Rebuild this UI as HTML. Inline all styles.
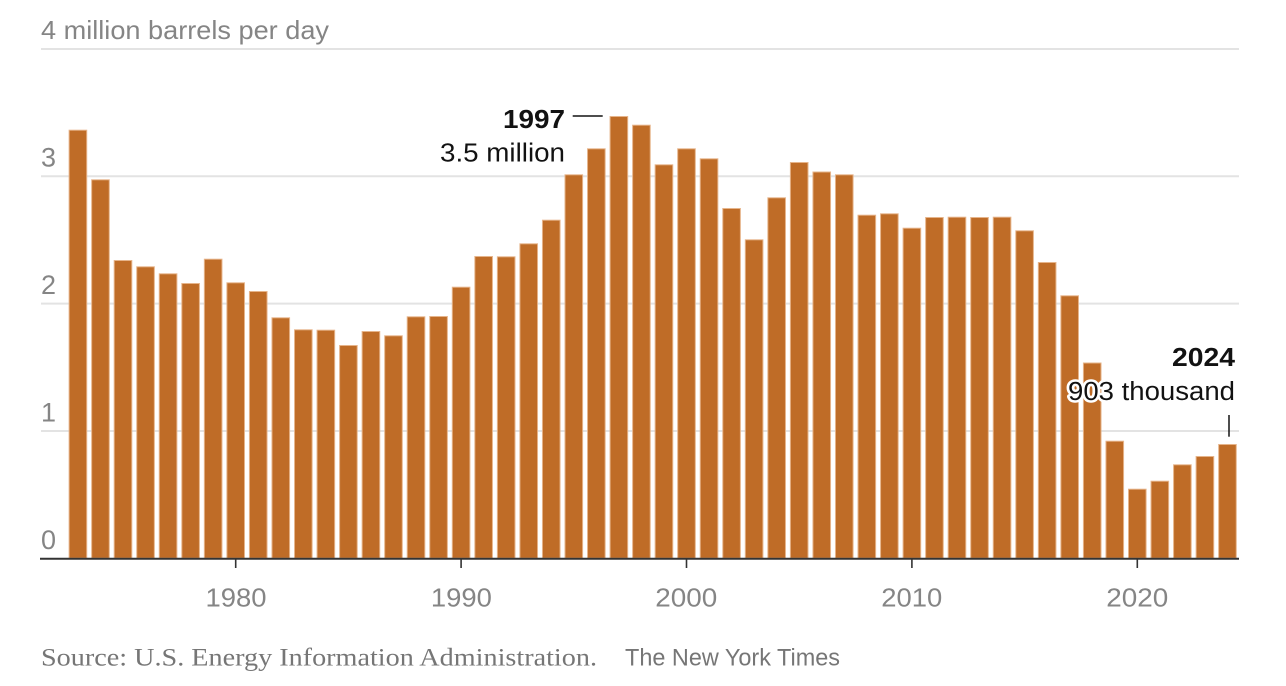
<!DOCTYPE html>
<html>
<head>
<meta charset="utf-8">
<style>
html,body{margin:0;padding:0;background:#fff;}
svg{display:block;}
</style>
</head>
<body>
<svg width="1286" height="686" viewBox="0 0 1286 686" xmlns="http://www.w3.org/2000/svg">
<g stroke="#e3e3e3" stroke-width="2">
<line x1="41" y1="49" x2="1239" y2="49"/>
<line x1="41" y1="176.3" x2="1239" y2="176.3"/>
<line x1="41" y1="303.6" x2="1239" y2="303.6"/>
<line x1="41" y1="431" x2="1239" y2="431"/>
</g>
<g font-family="Liberation Sans, sans-serif" fill="#858585" font-size="27">
<text x="41" y="39" font-size="26" textLength="288" lengthAdjust="spacingAndGlyphs">4 million barrels per day</text>
<text x="41" y="166.7">3</text>
<text x="41" y="294.2">2</text>
<text x="41" y="421.5">1</text>
<text x="41" y="549">0</text>
</g>
<g fill="#bf6c27" stroke="#e6b48a" stroke-width="1">
<rect x="69.12" y="130.2" width="17.6" height="428"/>
<rect x="91.66" y="179.8" width="17.6" height="378.4"/>
<rect x="114.2" y="260.5" width="17.6" height="297.7"/>
<rect x="136.74" y="266.8" width="17.6" height="291.4"/>
<rect x="159.28" y="273.8" width="17.6" height="284.4"/>
<rect x="181.82" y="283.5" width="17.6" height="274.7"/>
<rect x="204.36" y="259.2" width="17.6" height="299"/>
<rect x="226.9" y="282.8" width="17.6" height="275.4"/>
<rect x="249.44" y="291.5" width="17.6" height="266.7"/>
<rect x="271.98" y="317.8" width="17.6" height="240.4"/>
<rect x="294.52" y="329.8" width="17.6" height="228.4"/>
<rect x="317.06" y="330.2" width="17.6" height="228"/>
<rect x="339.6" y="345.5" width="17.6" height="212.7"/>
<rect x="362.14" y="331.5" width="17.6" height="226.7"/>
<rect x="384.68" y="335.8" width="17.6" height="222.4"/>
<rect x="407.22" y="316.8" width="17.6" height="241.4"/>
<rect x="429.76" y="316.5" width="17.6" height="241.7"/>
<rect x="452.3" y="287.2" width="17.6" height="271"/>
<rect x="474.84" y="256.5" width="17.6" height="301.7"/>
<rect x="497.38" y="256.8" width="17.6" height="301.4"/>
<rect x="519.92" y="243.8" width="17.6" height="314.4"/>
<rect x="542.46" y="220.2" width="17.6" height="338"/>
<rect x="565" y="174.8" width="17.6" height="383.4"/>
<rect x="587.54" y="148.8" width="17.6" height="409.4"/>
<rect x="610.08" y="116.5" width="17.6" height="441.7"/>
<rect x="632.62" y="125.2" width="17.6" height="433"/>
<rect x="655.16" y="164.8" width="17.6" height="393.4"/>
<rect x="677.7" y="148.8" width="17.6" height="409.4"/>
<rect x="700.24" y="158.8" width="17.6" height="399.4"/>
<rect x="722.78" y="208.5" width="17.6" height="349.7"/>
<rect x="745.32" y="239.8" width="17.6" height="318.4"/>
<rect x="767.86" y="197.8" width="17.6" height="360.4"/>
<rect x="790.4" y="162.5" width="17.6" height="395.7"/>
<rect x="812.94" y="172" width="17.6" height="386.2"/>
<rect x="835.48" y="174.8" width="17.6" height="383.4"/>
<rect x="858.02" y="215.2" width="17.6" height="343"/>
<rect x="880.56" y="213.8" width="17.6" height="344.4"/>
<rect x="903.1" y="228.2" width="17.6" height="330"/>
<rect x="925.64" y="217.5" width="17.6" height="340.7"/>
<rect x="948.18" y="217.2" width="17.6" height="341"/>
<rect x="970.72" y="217.5" width="17.6" height="340.7"/>
<rect x="993.26" y="217.2" width="17.6" height="341"/>
<rect x="1015.8" y="230.8" width="17.6" height="327.4"/>
<rect x="1038.34" y="262.5" width="17.6" height="295.7"/>
<rect x="1060.88" y="295.8" width="17.6" height="262.4"/>
<rect x="1083.42" y="363" width="17.6" height="195.2"/>
<rect x="1105.96" y="441.2" width="17.6" height="117"/>
<rect x="1128.5" y="489.2" width="17.6" height="69"/>
<rect x="1151.04" y="481.2" width="17.6" height="77"/>
<rect x="1173.58" y="464.8" width="17.6" height="93.4"/>
<rect x="1196.12" y="456.5" width="17.6" height="101.7"/>
<rect x="1218.66" y="444.5" width="17.6" height="113.7"/>
</g>
<line x1="40" y1="558.7" x2="1239" y2="558.7" stroke="#333" stroke-width="2"/>
<g stroke="#333" stroke-width="1.6">
<line x1="235.7" y1="559" x2="235.7" y2="568"/>
<line x1="461.1" y1="559" x2="461.1" y2="568"/>
<line x1="686.5" y1="559" x2="686.5" y2="568"/>
<line x1="911.9" y1="559" x2="911.9" y2="568"/>
<line x1="1137.3" y1="559" x2="1137.3" y2="568"/>
</g>
<g font-family="Liberation Sans, sans-serif" fill="#858585" font-size="25.5" text-anchor="middle">
<text x="236" y="606.7" textLength="61" lengthAdjust="spacingAndGlyphs">1980</text>
<text x="461.4" y="606.7" textLength="61" lengthAdjust="spacingAndGlyphs">1990</text>
<text x="686.3" y="606.7" textLength="62" lengthAdjust="spacingAndGlyphs">2000</text>
<text x="911.8" y="606.7" textLength="61" lengthAdjust="spacingAndGlyphs">2010</text>
<text x="1137.3" y="606.7" textLength="62" lengthAdjust="spacingAndGlyphs">2020</text>
</g>
<text x="41" y="665.7" font-family="Liberation Serif, serif" font-size="25" fill="#767676" textLength="556" lengthAdjust="spacingAndGlyphs">Source: U.S. Energy Information Administration.</text>
<text x="625" y="665.7" font-family="Liberation Sans, sans-serif" font-size="24" fill="#767676" textLength="215" lengthAdjust="spacingAndGlyphs">The New York Times</text>
<g font-family="Liberation Sans, sans-serif" fill="#121212">
<text x="503" y="128" font-size="26" font-weight="bold" textLength="62" lengthAdjust="spacingAndGlyphs">1997</text>
<text x="440" y="161.7" font-size="25.5" textLength="125" lengthAdjust="spacingAndGlyphs">3.5 million</text>
<text x="1172" y="366" font-size="26" font-weight="bold" textLength="63" lengthAdjust="spacingAndGlyphs">2024</text>
<text x="1068" y="400" font-size="25.5" textLength="167" lengthAdjust="spacingAndGlyphs" stroke="#fff" stroke-width="5" stroke-linejoin="round" paint-order="stroke">903 thousand</text>
</g>
<line x1="572.7" y1="116" x2="602.7" y2="116" stroke="#121212" stroke-width="1.5"/>
<line x1="1229" y1="415" x2="1229" y2="436.7" stroke="#121212" stroke-width="1.5"/>
</svg>
</body>
</html>
